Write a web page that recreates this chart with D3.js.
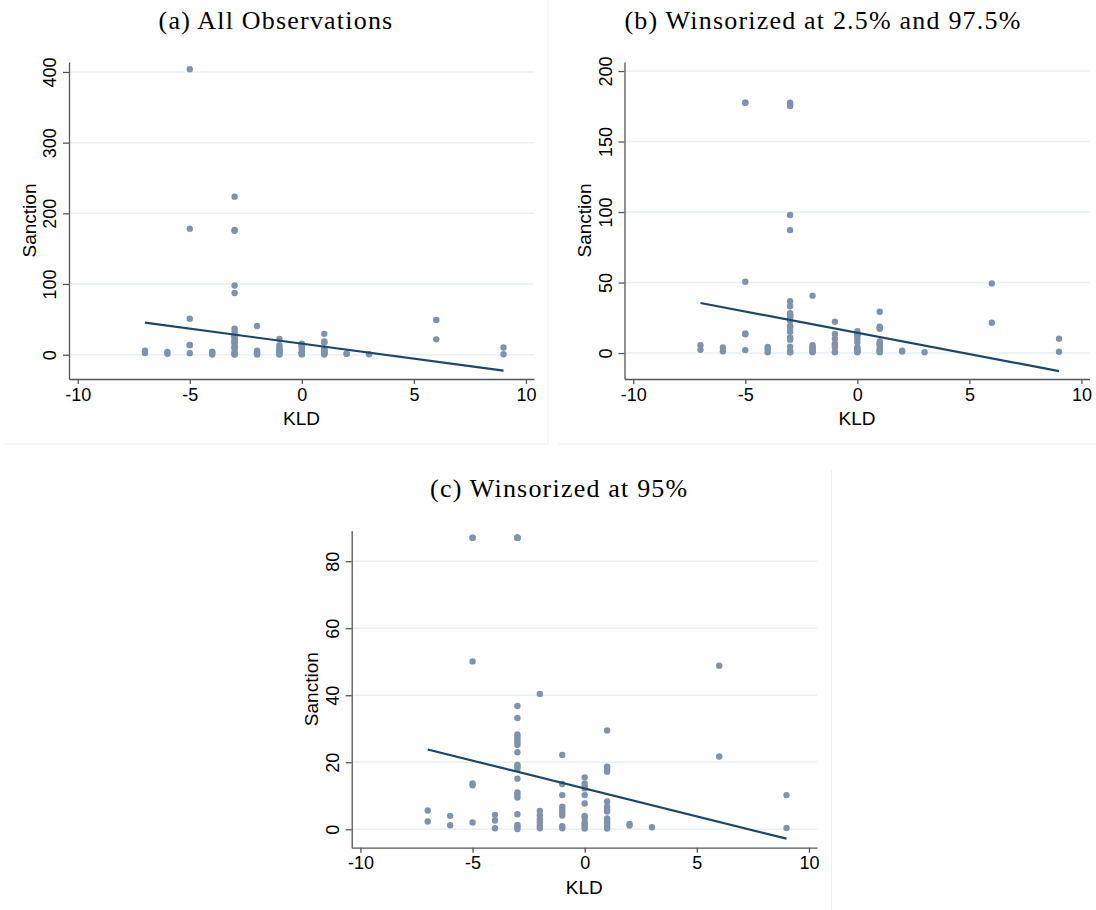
<!DOCTYPE html>
<html>
<head>
<meta charset="utf-8">
<script src="https://cdn.jsdelivr.net/npm/d3@7"></script>
<style>
  body { margin: 0; background: #fff; }
  svg { display: block; }
  .tick text { font-family: "Liberation Sans", Arial, sans-serif; font-size: 18px; fill: #000; }
  .axis path, .axis line { stroke: #555; stroke-width: 1.3; }
</style>
</head>
<body>
<svg id="chart" width="1096" height="910"></svg>
<script>
// KLD levels (x) and sanction values at each level
const kldLevels = [-7, -6, -5, -4, -3, -2, -1, 0, 1, 2, 3, 6, 9];

const sanctionAll = [
  [5.6, 2.3],
  [4.0, 1.2],
  [403.8, 178.3, 50.9, 13.9, 13.3, 2.2],
  [4.3, 2.6, 0.3],
  [223.6, 176.4, 175.2, 97.9, 87.2, 36.8, 33.2, 28.3, 27.5, 26.7, 25.9, 25.2, 23.0, 19.3, 18.7, 18.0, 15.1, 11.0, 10.3, 9.5, 4.5, 1.3, 0.7, 0.1],
  [40.5, 5.5, 4.1, 3.0, 2.0, 1.0, 0.3],
  [22.2, 13.5, 10.2, 6.7, 5.9, 5.1, 4.1, 0.9, 0.3],
  [15.5, 13.7, 12.9, 12.2, 10.2, 7.7, 4.0, 3.4, 2.2, 1.5, 0.9, 0.2],
  [29.5, 18.7, 18.0, 17.2, 8.3, 6.7, 6.0, 5.3, 3.2, 2.5, 1.8, 1.0, 0.2],
  [1.6, 1.1],
  [0.6],
  [49.2, 21.7],
  [10.2, 0.6]
];

const sanctionW25 = [
  [5.6, 2.3],
  [4.0, 1.2],
  [177.5, 177.5, 50.6, 13.9, 13.3, 2.1],
  [4.3, 2.6, 0.5],
  [177.5, 176.4, 175.2, 97.9, 87.2, 36.8, 33.2, 28.3, 27.5, 26.7, 25.9, 25.2, 23.0, 19.3, 18.7, 18.0, 15.1, 11.0, 10.3, 9.5, 4.5, 1.3, 0.7, 0.5],
  [40.7, 5.5, 4.1, 3.0, 2.0, 1.0, 0.5],
  [22.2, 13.5, 10.2, 6.7, 5.9, 5.1, 4.1, 0.9, 0.5],
  [15.5, 13.7, 12.9, 12.2, 10.2, 7.7, 4.0, 3.4, 2.2, 1.5, 0.9, 0.5],
  [29.3, 18.7, 18.0, 17.2, 8.3, 6.7, 6.0, 5.3, 3.2, 2.5, 1.8, 1.0, 0.5],
  [1.6, 1.1],
  [0.6],
  [49.4, 21.5],
  [10.2, 0.9]
];

const sanctionW95 = [
  [5.6, 2.3],
  [4.0, 1.2],
  [87, 87, 50.1, 13.7, 13.1, 2.0],
  [4.3, 2.6, 0.3],
  [87, 87, 87, 87, 87, 36.8, 33.2, 28.3, 27.5, 26.7, 25.9, 25.2, 23.0, 19.3, 18.7, 18.0, 15.1, 11.0, 10.3, 9.5, 4.5, 1.3, 0.7, 0.1],
  [40.4, 5.5, 4.1, 3.0, 2.0, 1.0, 0.3],
  [22.2, 13.5, 10.2, 6.7, 5.9, 5.1, 4.1, 0.9, 0.3],
  [15.5, 13.7, 12.9, 12.2, 10.2, 7.7, 4.0, 3.4, 2.2, 1.5, 0.9, 0.2],
  [29.5, 18.7, 18.0, 17.2, 8.3, 6.7, 6.0, 5.3, 3.2, 2.5, 1.8, 1.0, 0.2],
  [1.6, 1.1],
  [0.6],
  [48.8, 21.7],
  [10.2, 0.4]
];

// fitted line: values at the ends of the KLD range
const fitX = [-7, 9];
const fitAll = [45.3, -22.5];
const fitW25 = [35.5, -12.8];
const fitW95 = [23.8, -2.8];

const xTicks = [-10, -5, 0, 5, 10];
const yTicksAll = [0, 100, 200, 300, 400];
const yTicksW25 = [0, 50, 100, 150, 200];
const yTicksW95 = [0, 20, 40, 60, 80];

const titles = ["(a) All Observations", "(b) Winsorized at 2.5% and 97.5%", "(c) Winsorized at 95%"];

const svg = d3.select("#chart");

const panels = [
  { title: titles[0], values: sanctionAll, fit: fitAll, yTicks: yTicksAll, yDomain: [-34.4, 414.1],
    left: 69, right: 534, top: 62, bottom: 379, box: [4, 0, 548, 444] },
  { title: titles[1], values: sanctionW25, fit: fitW25, yTicks: yTicksW25, yDomain: [-18.4, 206.4],
    left: 624.5, right: 1089.5, top: 62, bottom: 379, box: [558, 0, 1096, 444] },
  { title: titles[2], values: sanctionW95, fit: fitW95, yTicks: yTicksW95, yDomain: [-5.5, 89.1],
    left: 351.7, right: 817, top: 530.7, bottom: 847.7, box: [287, 470, 831.5, 910] }
];

function drawPanel(p, i) {
  const g = svg.append("g");

  const x = d3.scaleLinear().domain([-10.39, 10.36]).range([p.left, p.right]);
  const y = d3.scaleLinear().domain(p.yDomain).range([p.bottom, p.top]);

  // faint graph-region outline
  const [bx0, by0, bx1, by1] = p.box;
  if (i < 2) {
    g.append("line").attr("x1", bx0).attr("x2", bx1).attr("y1", by1).attr("y2", by1)
      .attr("stroke", "#eef0f1").attr("stroke-width", 1.2);
  }
  if (i !== 1) {
    g.append("line").attr("x1", bx1).attr("x2", bx1).attr("y1", by0).attr("y2", by1)
      .attr("stroke", "#eef0f1").attr("stroke-width", 1.2);
  }

  // title
  g.append("text")
    .attr("x", (bx0 + bx1) / 2 + (i === 1 ? -4 : 0))
    .attr("y", i === 2 ? 497 : 29)
    .attr("text-anchor", "middle")
    .style("font-family", "'Liberation Serif', 'Times New Roman', serif")
    .style("font-size", "26px")
    .style("letter-spacing", "1.2px")
    .text(p.title);

  // grid
  g.selectAll(".grid").data(p.yTicks).enter().append("line")
    .attr("x1", p.left).attr("x2", p.right)
    .attr("y1", d => y(d)).attr("y2", d => y(d))
    .attr("stroke", "#e8f0f2").attr("stroke-width", 1.5);

  // scatter
  const pts = [];
  kldLevels.forEach((k, j) => p.values[j].forEach(v => pts.push([k, v])));
  g.selectAll(".dot").data(pts).enter().append("circle")
    .attr("cx", d => x(d[0])).attr("cy", d => y(d[1]))
    .attr("r", 3.2)
    .attr("fill", "#7f93ab");

  // fitted line
  g.append("path")
    .datum(fitX.map((k, j) => [k, p.fit[j]]))
    .attr("d", d3.line().x(d => x(d[0])).y(d => y(d[1])))
    .attr("fill", "none")
    .attr("stroke", "#1a476f")
    .attr("stroke-width", 2.2);

  // axes
  const xAxis = g.append("g").attr("class", "axis")
    .attr("transform", `translate(0,${p.bottom})`)
    .call(d3.axisBottom(x).tickValues(xTicks).tickSize(5).tickSizeOuter(0).tickFormat(d => String(d)));
  xAxis.selectAll("text").attr("y", 9).attr("dy", "0.71em");

  const yAxis = g.append("g").attr("class", "axis")
    .attr("transform", `translate(${p.left},0)`)
    .call(d3.axisLeft(y).tickValues(p.yTicks).tickSize(6).tickSizeOuter(0).tickFormat(d => String(d)));
  yAxis.selectAll("text")
    .attr("x", null).attr("dy", null)
    .attr("transform", "translate(-19,0) rotate(-90)")
    .attr("text-anchor", "middle")
    .attr("dominant-baseline", "central");

  // axis titles
  g.append("text")
    .attr("x", (p.left + p.right) / 2)
    .attr("y", p.bottom + 46)
    .attr("text-anchor", "middle")
    .style("font-family", "'Liberation Sans', Arial, sans-serif")
    .style("font-size", "19px")
    .text("KLD");

  g.append("text")
    .attr("transform", `translate(${p.left - 40},${(p.top + p.bottom) / 2}) rotate(-90)`)
    .attr("text-anchor", "middle")
    .attr("dominant-baseline", "central")
    .style("font-family", "'Liberation Sans', Arial, sans-serif")
    .style("font-size", "19px")
    .text("Sanction");
}

panels.forEach(drawPanel);
</script>
</body>
</html>
